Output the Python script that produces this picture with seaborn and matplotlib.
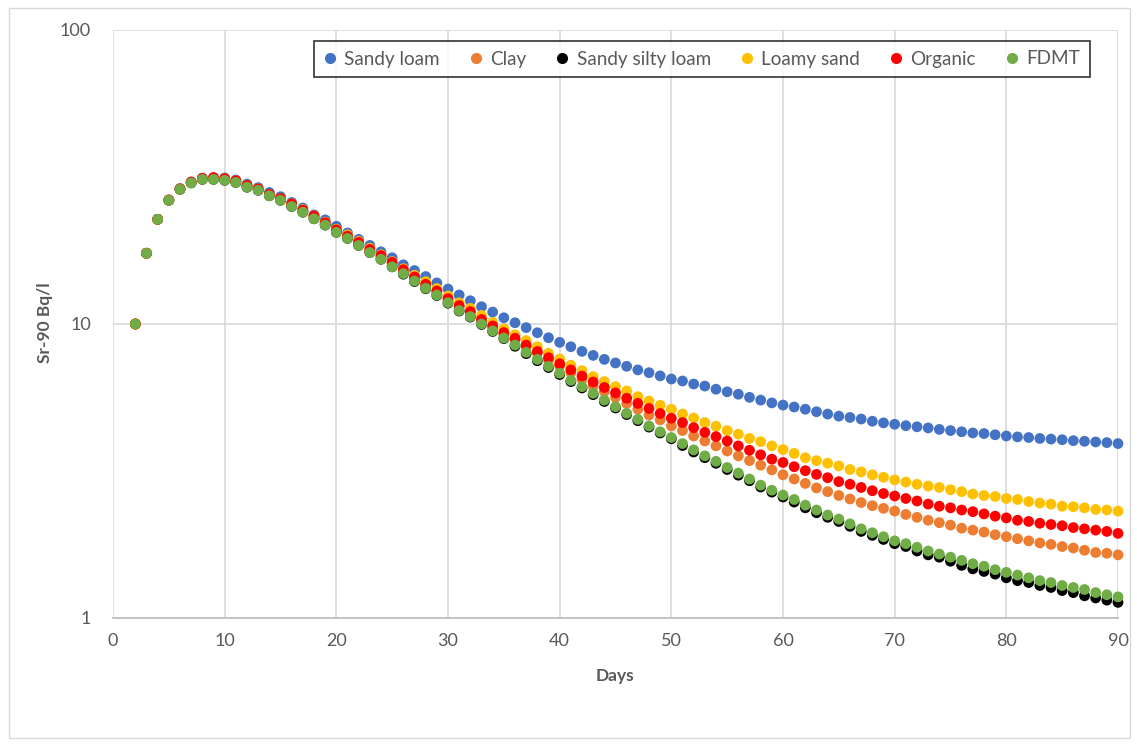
import numpy as np
import pandas as pd
import matplotlib
matplotlib.use("Agg")
import matplotlib.pyplot as plt
from matplotlib.patches import Rectangle
from matplotlib.lines import Line2D
from matplotlib.ticker import FixedLocator, NullLocator
import seaborn as sns

# Days of simulation
days = list(range(2, 91))

series_names = ["Sandy loam", "Clay", "Sandy silty loam", "Loamy sand", "Organic", "FDMT"]
series_colors = ["#4472C4", "#ED7D31", "#000000", "#FFC000", "#FF0000", "#70AD47"]

# Sr-90 activity concentration (Bq/l) per day
sandy_loam = [10.0, 17.4, 22.7, 26.4, 28.9, 30.4, 31.3, 31.4, 31.4, 30.9,
              29.9, 29.1, 28.0, 27.1, 25.9, 24.8, 23.5, 22.6, 21.5, 20.4,
              19.4, 18.5, 17.6, 16.8, 15.9, 15.2, 14.5, 13.8, 13.15, 12.55,
              12.0, 11.45, 10.98, 10.5, 10.1, 9.72, 9.34, 8.98, 8.66, 8.37,
              8.07, 7.82, 7.58, 7.37, 7.18, 6.98, 6.83, 6.66, 6.50, 6.40,
              6.25, 6.15, 6.00, 5.88, 5.77, 5.63, 5.51, 5.39, 5.30, 5.22,
              5.13, 5.03, 4.94, 4.86, 4.81, 4.75, 4.67, 4.61, 4.56, 4.51,
              4.47, 4.43, 4.38, 4.34, 4.30, 4.26, 4.24, 4.20, 4.16, 4.13,
              4.11, 4.08, 4.06, 4.04, 4.01, 3.99, 3.97, 3.95, 3.92]

clay = [10.0, 17.4, 22.7, 26.4, 28.8, 30.3, 31.1, 31.2, 31.05, 30.58,
        29.47, 28.72, 27.54, 26.56, 25.43, 24.26, 23.09, 21.97, 20.75, 19.85,
        18.81, 17.76, 16.86, 15.91, 15.12, 14.29, 13.49, 12.80, 12.05, 11.42,
        10.89, 10.28, 9.73, 9.21, 8.82, 8.37, 7.95, 7.54, 7.20, 6.83,
        6.48, 6.15, 5.89, 5.63, 5.37, 5.13, 4.90, 4.72, 4.50, 4.34,
        4.16, 4.00, 3.85, 3.70, 3.56, 3.43, 3.31, 3.19, 3.07, 2.97,
        2.87, 2.77, 2.69, 2.61, 2.54, 2.47, 2.41, 2.36, 2.31, 2.25,
        2.20, 2.15, 2.11, 2.07, 2.02, 1.99, 1.96, 1.92, 1.89, 1.86,
        1.83, 1.80, 1.78, 1.75, 1.73, 1.70, 1.67, 1.66, 1.64]

sandy_silty_loam = [10.0, 17.4, 22.7, 26.35, 28.7, 30.2, 31.05, 31.05, 30.8, 30.3,
                    29.2, 28.5, 27.3, 26.35, 25.1, 24.0, 22.8, 21.7, 20.5, 19.55,
                    18.5, 17.5, 16.6, 15.65, 14.77, 13.94, 13.18, 12.5, 11.77, 11.07,
                    10.56, 9.96, 9.43, 8.92, 8.40, 7.93, 7.50, 7.11, 6.73, 6.37,
                    6.06, 5.75, 5.45, 5.18, 4.92, 4.69, 4.46, 4.26, 4.07, 3.86,
                    3.67, 3.51, 3.36, 3.20, 3.06, 2.93, 2.79, 2.68, 2.58, 2.48,
                    2.37, 2.28, 2.20, 2.13, 2.05, 1.97, 1.91, 1.85, 1.79, 1.75,
                    1.69, 1.64, 1.61, 1.56, 1.51, 1.47, 1.44, 1.41, 1.37, 1.34,
                    1.32, 1.29, 1.27, 1.24, 1.22, 1.19, 1.17, 1.15, 1.13]

loamy_sand = [10.0, 17.4, 22.7, 26.4, 28.8, 30.3, 31.2, 31.3, 31.2, 30.7,
              29.6, 28.8, 27.6, 26.7, 25.6, 24.5, 23.3, 22.2, 21.0, 20.1,
              19.1, 18.1, 17.2, 16.3, 15.42, 14.65, 13.94, 13.2, 12.46, 11.80,
              11.31, 10.7, 10.13, 9.63, 9.18, 8.78, 8.37, 7.95, 7.60, 7.24,
              6.94, 6.62, 6.37, 6.12, 5.92, 5.66, 5.47, 5.29, 5.13, 4.94,
              4.79, 4.62, 4.49, 4.34, 4.22, 4.08, 3.98, 3.85, 3.74, 3.63,
              3.51, 3.43, 3.36, 3.29, 3.20, 3.14, 3.07, 3.01, 2.95, 2.90,
              2.85, 2.81, 2.78, 2.73, 2.69, 2.64, 2.61, 2.59, 2.55, 2.53,
              2.49, 2.46, 2.44, 2.40, 2.39, 2.37, 2.34, 2.33, 2.31]

organic = [10.0, 17.4, 22.7, 26.4, 28.8, 30.4, 31.3, 31.5, 31.2, 30.7,
           29.6, 28.8, 27.6, 26.7, 25.6, 24.4, 23.3, 22.1, 20.9, 19.9,
           18.96, 17.94, 17.09, 16.20, 15.30, 14.46, 13.65, 12.95, 12.20, 11.55,
           11.02, 10.36, 9.85, 9.35, 8.94, 8.48, 8.06, 7.68, 7.32, 6.98,
           6.65, 6.35, 6.08, 5.83, 5.59, 5.37, 5.16, 4.96, 4.78, 4.62,
           4.44, 4.28, 4.14, 4.00, 3.85, 3.72, 3.59, 3.47, 3.38, 3.27,
           3.17, 3.08, 3.00, 2.91, 2.85, 2.78, 2.71, 2.65, 2.60, 2.55,
           2.50, 2.44, 2.40, 2.37, 2.33, 2.30, 2.26, 2.22, 2.19, 2.15,
           2.13, 2.10, 2.08, 2.06, 2.03, 2.01, 1.99, 1.97, 1.94]

fdmt = [10.0, 17.4, 22.7, 26.35, 28.7, 30.2, 31.05, 31.05, 30.8, 30.3,
        29.2, 28.5, 27.3, 26.35, 25.1, 24.0, 22.8, 21.7, 20.5, 19.55,
        18.5, 17.5, 16.6, 15.65, 14.83, 14.0, 13.23, 12.55, 11.82, 11.11,
        10.6, 10.0, 9.47, 8.96, 8.48, 8.01, 7.58, 7.18, 6.80, 6.43,
        6.12, 5.81, 5.51, 5.23, 4.97, 4.74, 4.50, 4.30, 4.11, 3.92,
        3.73, 3.56, 3.41, 3.25, 3.11, 2.97, 2.83, 2.72, 2.62, 2.53,
        2.42, 2.33, 2.24, 2.17, 2.09, 2.01, 1.95, 1.89, 1.83, 1.79,
        1.74, 1.69, 1.65, 1.61, 1.57, 1.53, 1.50, 1.46, 1.43, 1.40,
        1.37, 1.34, 1.32, 1.29, 1.27, 1.25, 1.22, 1.20, 1.18]

x_ticks = [0, 10, 20, 30, 40, 50, 60, 70, 80, 90]
y_ticks = [1, 10, 100]
y_tick_labels = ["1", "10", "100"]

all_values = [sandy_loam, clay, sandy_silty_loam, loamy_sand, organic, fdmt]
for vals in all_values:
    assert len(vals) == len(days)

# Long-format table; later series are drawn on top
frames = []
for name, vals in zip(series_names, all_values):
    frames.append(pd.DataFrame({"Days": days, "Sr90": vals, "Soil": name}))
df = pd.concat(frames, ignore_index=True)

sns.set_theme(style="white")
plt.rcParams["font.family"] = ["Lato", "DejaVu Sans"]

text_color = "#595959"
grid_color = "#D9D9D9"

W, H = 1137, 746
fig = plt.figure(figsize=(W / 100, H / 100), dpi=100)
fig.patch.set_facecolor("white")

left, right, top, bottom = 113, 1118, 30, 618
ax = fig.add_axes([left / W, 1 - bottom / H, (right - left) / W, (bottom - top) / H])

sns.scatterplot(data=df, x="Days", y="Sr90", hue="Soil", hue_order=series_names,
                palette=series_colors, s=60, linewidth=0, edgecolor="none",
                legend=False, ax=ax, zorder=3, clip_on=False)

ax.set_yscale("log")
ax.set_xlim(0, 90)
ax.set_ylim(1, 100)
ax.xaxis.set_major_locator(FixedLocator(x_ticks))
ax.yaxis.set_major_locator(FixedLocator(y_ticks))
ax.yaxis.set_minor_locator(NullLocator())
ax.set_yticklabels(y_tick_labels)
ax.set_xticklabels([str(t) for t in x_ticks])
ax.tick_params(axis="both", length=0, labelsize=13, colors=text_color)
ax.tick_params(axis="y", pad=16)
ax.tick_params(axis="x", pad=11)

ax.grid(True, which="major", color=grid_color, linewidth=1.2)
ax.set_axisbelow(True)
for side in ["top", "right", "left"]:
    ax.spines[side].set_visible(False)
ax.spines["bottom"].set_color("#BFBFBF")
ax.spines["bottom"].set_linewidth(1.3)

ax.set_xlabel("")
ax.set_ylabel("")
fig.text(615 / W, 1 - 676 / H, "Days", ha="center", va="center",
         fontsize=12.5, fontweight="bold", color=text_color)
fig.text(45 / W, 1 - 323 / H, "Sr-90 Bq/l", ha="center", va="center",
         rotation=90, fontsize=12.5, fontweight="bold", color=text_color)

# Legend across the top of the plot area
handles = [Line2D([], [], linestyle="none", marker="o", markersize=8,
                  markerfacecolor=c, markeredgecolor="none", label=n)
           for n, c in zip(series_names, series_colors)]
leg = fig.legend(handles=handles, ncol=6, loc="center",
                 bbox_to_anchor=(702 / W, 1 - 59 / H),
                 frameon=True, fancybox=False, fontsize=13.6,
                 handlelength=0.6, handletextpad=0.45, columnspacing=1.62,
                 borderpad=0.5, labelcolor=text_color)
leg.get_frame().set_edgecolor("black")
leg.get_frame().set_linewidth(1.2)
leg.get_frame().set_facecolor("white")

# Chart area border
fig.patches.append(Rectangle((9 / W, 8 / H), (1130 - 9) / W, (738 - 8) / H,
                             transform=fig.transFigure, fill=False,
                             edgecolor="#D9D9D9", linewidth=1.0))

fig.savefig("out.png", dpi=100)
